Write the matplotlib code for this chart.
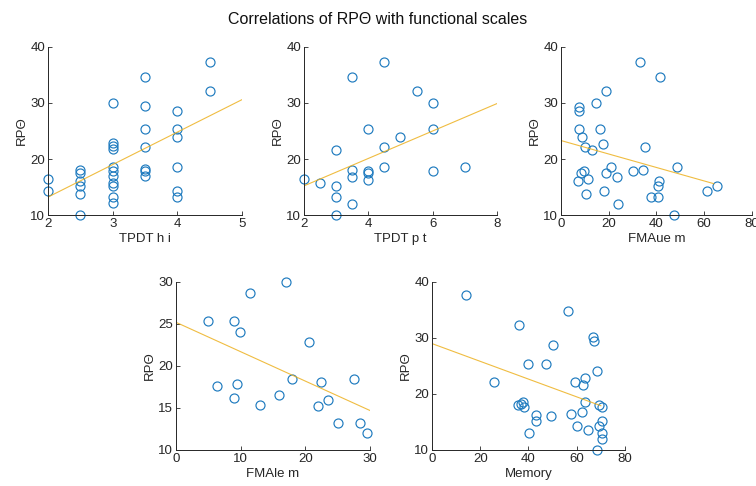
import matplotlib.pyplot as plt

plt.rcParams['font.family'] = ['Liberation Sans', 'DejaVu Sans']

# panel 1: TPDT h i
x1 = [2, 2, 2.5, 2.5, 2.5, 2.5, 2.5, 2.5,
      3, 3, 3, 3, 3, 3, 3, 3, 3, 3, 3,
      3.5, 3.5, 3.5, 3.5, 3.5, 3.5, 3.5,
      4, 4, 4, 4, 4, 4, 4.5, 4.5]
y1 = [16.4, 14.2, 18.0, 17.5, 16.0, 15.2, 13.7, 10.0,
      30.0, 22.8, 22.3, 21.7, 18.6, 17.8, 16.9, 15.7, 15.2, 13.3, 12.1,
      34.6, 29.4, 25.3, 22.1, 18.2, 17.8, 16.9,
      28.6, 25.3, 24.0, 18.5, 14.2, 13.3, 37.4, 32.1]
fit1_x, fit1_y = [2, 5], [13.2, 30.6]

# panel 2: TPDT p t
x2 = [2, 2.5, 3, 3, 3, 3, 3.5, 3.5, 3.5, 3.5, 4, 4, 4, 4,
      4.5, 4.5, 4.5, 5, 5.5, 6, 6, 6, 7]
y2 = [16.4, 15.8, 21.6, 15.2, 13.2, 10.0, 34.6, 18.0, 16.7, 12.0,
      25.3, 17.9, 17.5, 16.3, 37.4, 22.2, 18.5, 24.0, 32.1, 30.0,
      25.3, 17.9, 18.5]
fit2_x, fit2_y = [2, 8], [15.2, 29.9]

# panel 3: FMAue m
x3 = [7.5, 7.5, 7.5, 9.0, 10.0, 13.0, 14.8, 18.9, 16.4, 17.5, 9.6, 8.4,
      7.0, 11.5, 10.4, 17.9, 18.9, 21.0, 23.4, 24.0, 30.3, 34.4, 33.0,
      41.5, 35.3, 48.8, 41.0, 40.5, 37.9, 40.5, 47.4, 61.0, 65.2]
y3 = [29.3, 28.6, 25.4, 24.0, 22.1, 21.6, 30.0, 32.1, 25.3, 22.7, 17.9,
      17.5, 16.1, 16.4, 13.7, 14.2, 17.5, 18.5, 16.7, 12.0, 17.9, 18.0,
      37.4, 34.6, 22.1, 18.5, 16.0, 15.1, 13.2, 13.2, 10.0, 14.2, 15.2]
fit3_x, fit3_y = [0, 64], [23.3, 15.6]

# panel 4: FMAle m
x4 = [4.9, 6.4, 9.0, 9.0, 9.5, 9.9, 11.5, 13.0, 16.0, 17.0, 18.0, 20.5,
      22.0, 22.5, 23.5, 25.0, 27.5, 28.5, 29.5]
y4 = [25.4, 17.6, 25.3, 16.2, 17.9, 24.1, 28.7, 15.3, 16.5, 30.0, 18.5,
      22.8, 15.2, 18.1, 16.0, 13.2, 18.5, 13.2, 12.0]
fit4_x, fit4_y = [0, 30], [25.2, 14.7]

# panel 5: Memory
x5 = [14.1, 25.9, 36.1, 35.6, 37.0, 37.9, 38.3, 40.0, 40.3, 43.2, 43.2,
      47.2, 49.2, 50.3, 56.3, 57.7, 59.3, 60.0, 62.3, 62.8, 63.4, 63.4,
      64.8, 66.9, 67.3, 68.3, 69.2, 69.4, 70.3, 70.6, 70.6, 70.3, 68.3]
y5 = [37.6, 22.2, 32.3, 18.0, 18.3, 18.6, 17.7, 25.4, 13.1, 16.2, 15.2,
      25.4, 16.0, 28.7, 34.8, 16.4, 22.2, 14.2, 16.7, 21.6, 22.8, 18.5,
      13.6, 30.1, 29.5, 24.1, 14.2, 18.0, 17.6, 15.2, 13.1, 12.0, 10.0]
fit5_x, fit5_y = [0, 70], [29.0, 17.9]

panels = [
    ([0.0635, 0.5576, 0.2566, 0.3457], x1, y1, fit1_x, fit1_y, 'TPDT h i',
     (2, 5), [2, 3, 4, 5], (10, 40), [10, 20, 30, 40]),
    ([0.4021, 0.5576, 0.2553, 0.3457], x2, y2, fit2_x, fit2_y, 'TPDT p t',
     (2, 8), [2, 4, 6, 8], (10, 40), [10, 20, 30, 40]),
    ([0.7420, 0.5576, 0.2526, 0.3457], x3, y3, fit3_x, fit3_y, 'FMAue m',
     (0, 80), [0, 20, 40, 60, 80], (10, 40), [10, 20, 30, 40]),
    ([0.2328, 0.0741, 0.2566, 0.3457], x4, y4, fit4_x, fit4_y, 'FMAle m',
     (0, 30), [0, 10, 20, 30], (10, 30), [10, 15, 20, 25, 30]),
    ([0.5714, 0.0741, 0.2553, 0.3457], x5, y5, fit5_x, fit5_y, 'Memory',
     (0, 80), [0, 20, 40, 60, 80], (10, 40), [10, 20, 30, 40]),
]

fig = plt.figure(figsize=(7.56, 4.86), dpi=100)

for rect, xs, ys, fx, fy, xlab, xl, xt, yl, yt in panels:
    ax = fig.add_axes(rect)
    ax.plot(xs, ys, 'o', mfc='none', mec='#1f7bbf', ms=6.5, mew=0.85,
            clip_on=False)
    ax.plot(fx, fy, color='#EDB120', lw=0.8, alpha=0.85)
    ax.set_xlim(*xl)
    ax.set_ylim(*yl)
    ax.set_xticks(xt)
    ax.set_yticks(yt)
    ax.spines['top'].set_visible(False)
    ax.spines['right'].set_visible(False)
    for s in ('left', 'bottom'):
        ax.spines[s].set_color('#262626')
        ax.spines[s].set_linewidth(0.7)
    ax.tick_params(direction='in', length=3, width=0.6, colors='#262626',
                   labelsize=9.5, pad=2)
    ax.set_xlabel(xlab, fontsize=9.5, color='#262626', labelpad=2)
    ax.set_ylabel('RPΘ', fontsize=9.5, color='#262626', labelpad=2)

fig.suptitle('Correlations of RPΘ with functional scales', fontsize=11.5,
             x=0.5, y=0.975, color='#111111')

fig.savefig('out.png', dpi=100)
